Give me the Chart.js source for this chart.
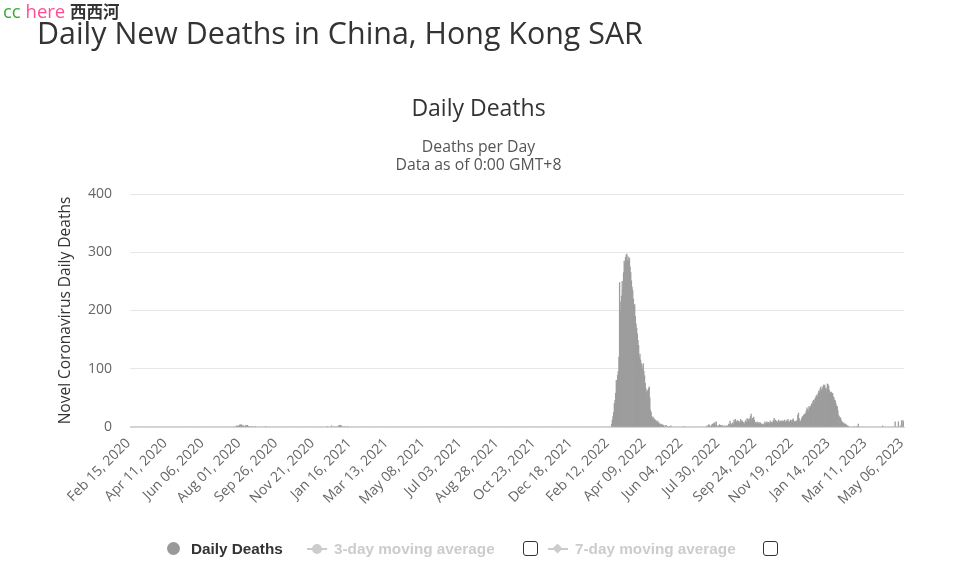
<!DOCTYPE html>
<html><head><meta charset="utf-8">
<script src="https://cdn.jsdelivr.net/npm/chart.js@4.4.0/dist/chart.umd.min.js"></script>
<style>
html,body{margin:0;padding:0;background:#fff;width:957px;height:578px;overflow:hidden;font-family:"Open Sans",sans-serif;}
#wm{position:absolute;left:3px;top:0px;font-size:18.5px;line-height:22px;white-space:nowrap;}
#wm .cc{color:#3aa93a;}
#wm .here{color:#ff4d94;}
#wm .xx{color:#333;font-family:"Noto Sans CJK SC",sans-serif;font-weight:bold;font-size:16.5px;}
#pageTitle{position:absolute;left:37px;top:15px;font-size:30.4px;line-height:36px;color:#333;white-space:nowrap;}
.ct{position:absolute;left:0;width:957px;text-align:center;white-space:nowrap;}
#chartTitle{top:93px;font-size:23px;line-height:28px;color:#333;}
#sub1{top:136px;font-size:15.8px;line-height:20px;color:#555;}
#sub2{top:154px;font-size:15.8px;line-height:20px;color:#555;}
#c{position:absolute;left:0;top:0;}
.lg{position:absolute;top:539px;font-family:"Liberation Sans",Arial,sans-serif;font-weight:bold;font-size:15.3px;line-height:20px;white-space:nowrap;}
.dot{position:absolute;left:167px;top:542px;width:13px;height:13px;border-radius:50%;background:#999;}
.ln{position:absolute;top:548px;height:2px;width:20px;background:#ccc;}
.cb{position:absolute;top:541px;width:13px;height:13px;border:1px solid #333;border-radius:3px;background:#fff;}
</style></head>
<body>
<canvas id="c" width="957" height="578"></canvas>
<div id="wm"><span class="cc">cc</span> <span class="here">here</span> <span class="xx">西西河</span></div>
<div id="pageTitle">Daily New Deaths in China, Hong Kong SAR</div>
<div class="ct" id="chartTitle">Daily Deaths</div>
<div class="ct" id="sub1">Deaths per Day</div>
<div class="ct" id="sub2">Data as of 0:00 GMT+8</div>
<div class="dot"></div>
<div class="lg" style="left:191px;color:#333;">Daily Deaths</div>
<div class="ln" style="left:307px;"></div>
<div style="position:absolute;left:312px;top:544px;width:10px;height:10px;border-radius:50%;background:#ccc;"></div>
<div class="lg" style="left:334px;color:#ccc;">3-day moving average</div>
<div class="cb" style="left:523px;"></div>
<div class="ln" style="left:548px;"></div>
<div style="position:absolute;left:554px;top:545px;width:7px;height:7px;background:#ccc;transform:rotate(45deg);"></div>
<div class="lg" style="left:575px;color:#ccc;">7-day moving average</div>
<div class="cb" style="left:763px;"></div>
<script>
// ---- data (daily deaths; days not listed in a segment are 0) ----
const firstDay = '2020-02-15';
const lastDay = '2023-05-06';
const tickEvery = 56;
const yTicks = [0, 100, 200, 300, 400];

const summer2020Start = '2020-07-24';
const summer2020Deaths = [1,0,2,1,2,1,3,4,2,4,3,1,2,1,0,2,3,2,3,1,1,0,1,0,0,1,0,0,0,0,1,0,0,0,0,0,0,0,0,0,0,0,0,0,0,0,1];

const winter2020Start = '2020-12-11';
const winter2020Deaths = [1,0,0,0,0,0,2,0,0,0,1,0,0,0,0,1,0,2,3,1,3,2,0,0,0,1,0,0,0,0,1];

const wave5Start = '2022-02-16';
const wave5Deaths = [5,12,18,25,40,46,58,80,75,89,95,120,248,200,215,225,250,235,265,285,
  280,291,295,297,286,292,284,290,275,265,251,240,234,220,205,210,190,177,170,160,
  149,140,120,125,115,109,105,100,109,95,88,75,66,60,63,58,66,69,50,29,
  25,18,15,17,12,14,10,12,9,8,10,6,7,5,4,5,3,4,2,3,
  0,2,0,3,0,1,0,0,1,0,2,0,0,0,0,0,0,0,0,0,0,0,0,0,0,0,0,0,0,0,1];

const wave6Start = '2022-07-11';
const wave6Deaths = [2,0,3,4,2,1,0,3,5,2,6,4,8,3,9,2,1,0,3,4,2,3,1,3,2,0,1,2,0,2,1,2,
  0,5,4,10,6,3,5,7,4,12, 8,13,6,9,11,7,10,6,9,13, 8,11,9,6,8,5,9,12,8,15,
  10,13,9,14,18,22,12,15,10,17, 12,6,8,5,9,7,6,8,5,7, 6,4,5,3,4,6,9,5,7,9,
  6,8,7,5,10,8,7,9,6,11, 15,8,12,10,9,7,10,12,9,8, 10,9,11,8,10,9,12,8,9,11,
  10,13,9,8,10,12,9,11,12,14, 10,9,8,10,9,12,20,24,15,10, 9,12,15,18,16,20,22,18,24,28,
  33,30,27,35,32,36,33,40,38,44, 46,42,48,50,53,55,52,58,62,60, 66,69,64,63,68,72,70,72,66,67,
  62,74,73,70,63,60,58,60,55,58, 52,50,46,45,40,36,35,28,20,18, 15,16,12,9,8,6,7,5,4,5,
  3,2,2,1];

const spring2023Start = '2023-02-19';
const spring2023Deaths = [0,1,0,0,0,1,0,5,0,0, 0,0,0,0,0,0,0,0,0,0, 0,0,0,0,0,0,0,0,0,0,
  0,0,0,0,0,0,0,0,0,0, 0,0,0,0,2,0,0,0,0,0, 0,0,0,0,0,0,0,0,0,0, 0,0,0,9,0,0,0,0,9,0,
  0,0,3,11,0,11,8];

// ---- build category labels and the daily series ----
const MONTHS = ['Jan','Feb','Mar','Apr','May','Jun','Jul','Aug','Sep','Oct','Nov','Dec'];
const DAY = 86400000;
const t0 = Date.parse(firstDay + 'T00:00:00Z');
const nDays = Math.round((Date.parse(lastDay + 'T00:00:00Z') - t0) / DAY) + 1;
const labels = [];
for (let i = 0; i < nDays; i++) {
  const d = new Date(t0 + i * DAY);
  labels.push(MONTHS[d.getUTCMonth()] + ' ' + String(d.getUTCDate()).padStart(2, '0') + ', ' + d.getUTCFullYear());
}
const dailyDeaths = new Array(nDays).fill(0);
[[summer2020Start, summer2020Deaths], [winter2020Start, winter2020Deaths], [wave5Start, wave5Deaths],
 [wave6Start, wave6Deaths], [spring2023Start, spring2023Deaths]].forEach(([s, arr]) => {
  const off = Math.round((Date.parse(s + 'T00:00:00Z') - t0) / DAY);
  arr.forEach((v, k) => { if (off + k < nDays) dailyDeaths[off + k] = v; });
});

new Chart(document.getElementById('c'), {
  type: 'bar',
  data: {
    labels: labels,
    datasets: [{
      label: 'Daily Deaths',
      data: dailyDeaths,
      backgroundColor: '#9c9c9c',
      borderWidth: 0,
      barPercentage: 1,
      categoryPercentage: 1
    }]
  },
  options: {
    responsive: false,
    animation: false,
    devicePixelRatio: 1,
    layout: { padding: { top: 194, left: 53, right: 53, bottom: 50 } },
    plugins: { legend: { display: false }, tooltip: { enabled: false }, title: { display: false } },
    scales: {
      x: {
        grid: { display: false, drawTicks: false },
        border: { display: true, color: '#ccd6eb', width: 1 },
        ticks: {
          autoSkip: false, minRotation: 45, maxRotation: 45, padding: 8, labelOffset: -2,
          color: '#666', font: { family: 'Open Sans', size: 14 },
          callback: function (v, i) { return i % tickEvery === 0 ? labels[i] : null; }
        },
        afterFit: function (s) { s.height = 101; }
      },
      y: {
        min: 0, max: 400,
        afterBuildTicks: function (s) { s.ticks = yTicks.map(v => ({ value: v })); },
        grid: { color: '#e6e6e6', drawTicks: false },
        border: { display: false },
        ticks: { padding: 18, color: '#666', font: { family: 'Open Sans', size: 14 } },
        title: { display: true, text: 'Novel Coronavirus Daily Deaths', color: '#333', padding: { top: 3, bottom: 4 }, font: { family: 'Open Sans', size: 15.5 } },
        afterFit: function (s) { s.width = 77; }
      }
    }
  }
});
</script>
</body></html>
